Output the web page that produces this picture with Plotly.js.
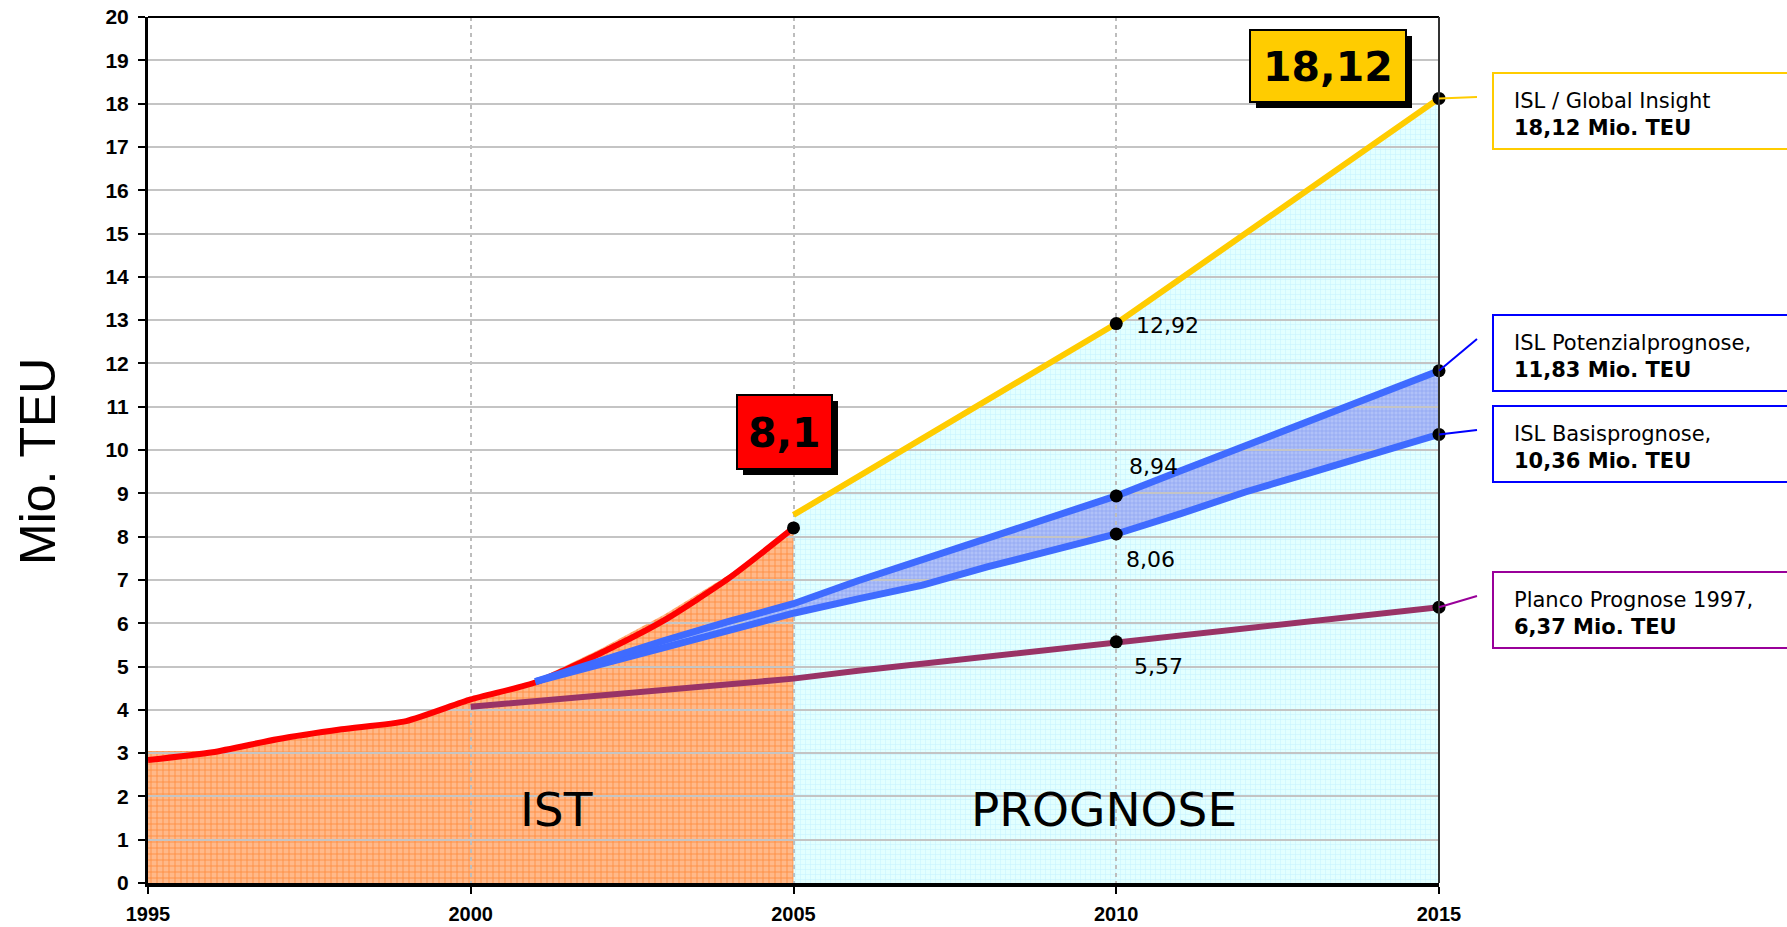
<!DOCTYPE html>
<html>
<head>
<meta charset="utf-8">
<script src="https://cdn.plot.ly/plotly-3.0.1.min.js"></script>
<style>
html,body{margin:0;padding:0;background:#ffffff;}
#chart{width:1787px;height:927px;}
</style>
</head>
<body>
<div id="chart"></div>
<script>
// ---------------- DATA ----------------
const xTicks = [1995, 2000, 2005, 2010, 2015];

// IST (actual throughput) – smoothed red line and area below it
const istYears = [1995, 1996, 1997, 1998, 1999, 2000, 2001, 2002, 2003, 2004, 2005];
const istLine  = [2.84, 3.02, 3.32, 3.55, 3.74, 4.24, 4.63, 5.30, 6.07, 7.04, 8.20];
const istArea  = [3.05, 3.05, 3.32, 3.57, 3.77, 4.27, 4.68, 5.40, 6.20, 7.12, 8.10];
const istTotal = 8.1;

// ISL / Global Insight forecast
const globalYears = [2005, 2010, 2015];
const globalInsight = [8.50, 12.92, 18.12];

// ISL Potenzialprognose (upper) and Basisprognose (lower)
const bandYears  = [2001, 2002, 2003, 2004, 2005, 2006, 2007, 2008, 2009, 2010, 2011, 2012, 2013, 2014, 2015];
const potenzial  = [4.65, 5.13, 5.60, 6.04, 6.45, 6.98, 7.48, 7.97, 8.46, 8.94, 9.52, 10.10, 10.65, 11.23, 11.83];
const basis      = [4.65, 5.05, 5.45, 5.84, 6.23, 6.56, 6.88, 7.30, 7.69, 8.06, 8.53, 9.03, 9.47, 9.90, 10.36];

// Planco Prognose 1997
const plancoYears = [2000, 2001, 2002, 2003, 2004, 2005, 2006, 2007, 2008, 2009, 2010, 2011, 2012, 2013, 2014, 2015];
const planco      = [4.07, 4.20, 4.33, 4.46, 4.59, 4.72, 4.90, 5.06, 5.22, 5.40, 5.57, 5.71, 5.88, 6.03, 6.21, 6.37];

const names = {
  global: 'ISL / Global Insight',
  potenzial: 'ISL Potenzialprognose,',
  basis: 'ISL Basisprognose,',
  planco: 'Planco Prognose 1997,'
};
const unit = 'Mio. TEU';
const yTitle = 'Mio. TEU';
const regionIst = 'IST';
const regionPrognose = 'PROGNOSE';

// ---------------- HELPERS ----------------
const W = 1787, H = 927;
const L = 148, R = 1439, T = 17, B = 883;
const fmt = v => v.toFixed(2).replace('.', ',');
const fmt1 = v => String(v).replace('.', ',');
const px = x => (x - L) / (R - L);          // pixel x -> paper
const py = y => (B - y) / (B - T);          // pixel y -> paper
const valY = v => B - v * (B - T) / 20;     // data value -> pixel y
const at = (years, vals, yr) => vals[years.indexOf(yr)];

const FONT_TXT = 'DejaVu Sans, Verdana, sans-serif';
const FONT_AX = 'Liberation Sans, Arial, sans-serif';

// ---------------- TRACES ----------------
const traces = [];
// subplot 1 (below the grid): filled areas
traces.push({
  x: globalYears, y: globalInsight, xaxis: 'x', yaxis: 'y',
  type: 'scatter', mode: 'lines', fill: 'tozeroy',
  line: {width: 0, color: 'rgba(0,0,0,0)'},
  fillcolor: '#DDFFFF',
  fillpattern: {shape: '+', size: 5, solidity: 0.2, fgcolor: '#C6F2FF', bgcolor: '#E2FFFF', fgopacity: 1},
  hoverinfo: 'skip', showlegend: false
});
traces.push({
  x: istYears, y: istArea, xaxis: 'x', yaxis: 'y',
  type: 'scatter', mode: 'lines', fill: 'tozeroy',
  line: {width: 0, color: 'rgba(0,0,0,0)'},
  fillcolor: '#FFB07A',
  fillpattern: {shape: '+', size: 6, solidity: 0.25, fgcolor: '#FF8A3A', bgcolor: '#FFB98A', fgopacity: 1},
  hoverinfo: 'skip', showlegend: false
});
traces.push({
  x: bandYears, y: basis, xaxis: 'x', yaxis: 'y',
  type: 'scatter', mode: 'lines',
  line: {width: 0, color: 'rgba(0,0,0,0)'},
  hoverinfo: 'skip', showlegend: false
});
traces.push({
  x: bandYears, y: potenzial, xaxis: 'x', yaxis: 'y',
  type: 'scatter', mode: 'lines', fill: 'tonexty',
  line: {width: 0, color: 'rgba(0,0,0,0)'},
  fillcolor: '#A8BAF6',
  fillpattern: {shape: '+', size: 4, solidity: 0.3, fgcolor: '#8AA2F2', bgcolor: '#B0C1F8', fgopacity: 1},
  hoverinfo: 'skip', showlegend: false
});

// subplot 2 (above the grid): lines and markers
traces.push({
  x: plancoYears, y: planco, xaxis: 'x2', yaxis: 'y2',
  type: 'scatter', mode: 'lines', line: {color: '#993366', width: 6},
  name: names.planco, showlegend: false
});
traces.push({
  x: istYears, y: istLine, xaxis: 'x2', yaxis: 'y2',
  type: 'scatter', mode: 'lines', line: {color: '#FF0000', width: 6, shape: 'spline', smoothing: 0.6},
  name: regionIst, showlegend: false
});
traces.push({
  x: bandYears, y: basis, xaxis: 'x2', yaxis: 'y2',
  type: 'scatter', mode: 'lines', line: {color: '#3F6BFF', width: 7},
  name: names.basis, showlegend: false
});
traces.push({
  x: bandYears, y: potenzial, xaxis: 'x2', yaxis: 'y2',
  type: 'scatter', mode: 'lines', line: {color: '#3F6BFF', width: 7},
  name: names.potenzial, showlegend: false
});
traces.push({
  x: globalYears, y: globalInsight, xaxis: 'x2', yaxis: 'y2',
  type: 'scatter', mode: 'lines', line: {color: '#FFCC00', width: 6},
  name: names.global, showlegend: false
});

const shapes = [];
const annotations = [];
// frame: top border and right border
shapes.push({type: 'line', xref: 'paper', yref: 'paper', x0: 0, x1: 1, y0: 1, y1: 1, line: {color: '#000', width: 2}, layer: 'above'});
shapes.push({type: 'line', xref: 'paper', yref: 'paper', x0: 1, x1: 1, y0: 0, y1: 1, line: {color: '#333333', width: 2}, layer: 'above'});

const dotX = [2005, 2010, 2010, 2010, 2010, 2015, 2015, 2015, 2015];
const dotY = [
  at(istYears, istLine, 2005),
  at(globalYears, globalInsight, 2010), at(bandYears, potenzial, 2010), at(bandYears, basis, 2010), at(plancoYears, planco, 2010),
  at(globalYears, globalInsight, 2015), at(bandYears, potenzial, 2015), at(bandYears, basis, 2015), at(plancoYears, planco, 2015)
];
traces.push({
  x: dotX, y: dotY, xaxis: 'x2', yaxis: 'y2', cliponaxis: false,
  type: 'scatter', mode: 'markers', marker: {color: '#000000', size: 13},
  showlegend: false
});

// ---------------- LAYOUT ----------------
// highlighted value boxes (with shadow)
function valueBox(x0, y0, x1, y1, fill, text) {
  shapes.push({type: 'rect', xref: 'paper', yref: 'paper', x0: px(x0 + 6), x1: px(x1 + 6), y0: py(y0 + 6), y1: py(y1 + 6),
    fillcolor: '#000', line: {width: 0}, layer: 'above'});
  shapes.push({type: 'rect', xref: 'paper', yref: 'paper', x0: px(x0), x1: px(x1), y0: py(y0), y1: py(y1),
    fillcolor: fill, line: {color: '#000', width: 2}, layer: 'above'});
  annotations.push({xref: 'paper', yref: 'paper', x: px((x0 + x1) / 2), y: py((y0 + y1) / 2 + 1),
    xanchor: 'center', yanchor: 'middle', showarrow: false, text: '<b>' + text + '</b>',
    font: {family: FONT_TXT, size: 41, color: '#000'}});
}
valueBox(1250, 30, 1406, 102, '#FFCC00', fmt(at(globalYears, globalInsight, 2015)));
valueBox(737, 395, 832, 469, '#FF0000', fmt1(istTotal));

// data labels at 2010
function dataLabel(value, dx, dy) {
  annotations.push({xref: 'x2', yref: 'y2', x: 2010, y: value, xanchor: 'left', yanchor: 'middle',
    xshift: dx, yshift: dy, showarrow: false, text: fmt(value),
    font: {family: FONT_TXT, size: 22, color: '#000'}});
}
dataLabel(at(globalYears, globalInsight, 2010), 18, -2);
dataLabel(at(bandYears, potenzial, 2010), 11, 29);
dataLabel(at(bandYears, basis, 2010), 8, -25);
dataLabel(at(plancoYears, planco, 2010), 16, -25);

// region labels
annotations.push({xref: 'paper', yref: 'paper', x: px(556), y: py(809), xanchor: 'center', yanchor: 'middle',
  showarrow: false, text: regionIst, font: {family: FONT_TXT, size: 47, color: '#000'}});
annotations.push({xref: 'paper', yref: 'paper', x: px(1104), y: py(809), xanchor: 'center', yanchor: 'middle',
  showarrow: false, text: regionPrognose, font: {family: FONT_TXT, size: 47, color: '#000'}});

// y axis title
annotations.push({xref: 'paper', yref: 'paper', x: px(38), y: py(462), xanchor: 'center', yanchor: 'middle',
  textangle: -90, showarrow: false, text: yTitle, font: {family: FONT_AX, size: 50, color: '#000'}});

// legend boxes on the right with connectors
function legendBox(top, bottom, color, name, value, connY) {
  shapes.push({type: 'rect', xref: 'paper', yref: 'paper', x0: px(1493), x1: px(1800), y0: py(top), y1: py(bottom),
    fillcolor: '#FFFFFF', line: {color: color, width: 2}, layer: 'above'});
  shapes.push({type: 'line', xref: 'paper', yref: 'paper', x0: px(1439), x1: px(1477), y0: py(valY(value)), y1: py(connY),
    line: {color: color, width: 2}, layer: 'above'});
  annotations.push({xref: 'paper', yref: 'paper', x: px(1512), y: py((top + bottom) / 2 + 3), xanchor: 'left', yanchor: 'middle',
    align: 'left', showarrow: false, text: name + '<br><b>' + fmt(value) + ' ' + unit + '</b>',
    font: {family: FONT_TXT, size: 21, color: '#000'}});
}
legendBox(73, 149, '#FFCC00', names.global, at(globalYears, globalInsight, 2015), 97);
legendBox(315, 391, '#0000FF', names.potenzial, at(bandYears, potenzial, 2015), 339);
legendBox(406, 482, '#0000FF', names.basis, at(bandYears, basis, 2015), 430);
legendBox(572, 648, '#990099', names.planco, at(plancoYears, planco, 2015), 596);

const tickFontX = {family: FONT_AX, size: 20, color: '#000', weight: 'bold'};
const tickFontY = {family: FONT_AX, size: 21, color: '#000', weight: 'bold'};

const layout = {
  width: W, height: H,
  margin: {l: L, r: W - R, t: T, b: H - B, pad: 0},
  paper_bgcolor: '#FFFFFF',
  plot_bgcolor: 'rgba(0,0,0,0)',
  showlegend: false,
  xaxis: {range: [1995, 2015], domain: [0, 1], anchor: 'y', visible: false, fixedrange: true},
  yaxis: {range: [0, 20], domain: [0, 1], anchor: 'x', visible: false, fixedrange: true},
  xaxis2: {
    range: [1995, 2015], domain: [0, 1], anchor: 'y2',
    tickmode: 'array', tickvals: xTicks, ticktext: xTicks.map(String),
    showgrid: true, gridcolor: '#BDBDBD', gridwidth: 2, griddash: '4px,4px',
    zeroline: false, showline: true, linecolor: '#000', linewidth: 4,
    ticks: 'outside', ticklen: 7, tickwidth: 2, tickcolor: '#000',
    ticklabelstandoff: 3, tickfont: tickFontX, fixedrange: true
  },
  yaxis2: {
    range: [0, 20], domain: [0, 1], anchor: 'x2',
    tickmode: 'linear', tick0: 0, dtick: 1,
    showgrid: true, gridcolor: '#C4C4C4', gridwidth: 2,
    zeroline: false, showline: true, linecolor: '#000', linewidth: 3,
    ticks: 'outside', ticklen: 7, tickwidth: 2, tickcolor: '#000',
    ticklabelstandoff: 5, tickfont: tickFontY, fixedrange: true
  },
  shapes: shapes,
  annotations: annotations
};

Plotly.newPlot('chart', traces, layout, {displayModeBar: false, staticPlot: true});
</script>
</body>
</html>
